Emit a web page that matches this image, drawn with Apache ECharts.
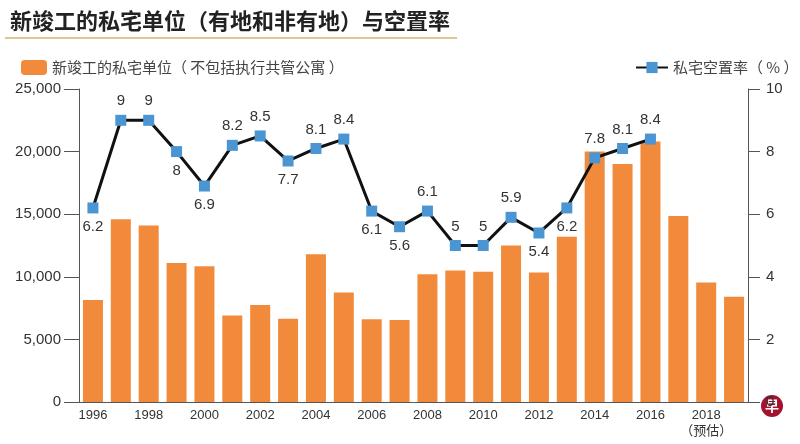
<!DOCTYPE html>
<html>
<head>
<meta charset="utf-8">
<script src="https://cdn.jsdelivr.net/npm/echarts@6/dist/echarts.min.js"></script>
<style>
html,body{margin:0;padding:0;background:#fff;}
#main{width:800px;height:444px;}
</style>
</head>
<body>
<div id="main"></div>
<script>
var years = ['1996','1997','1998','1999','2000','2001','2002','2003','2004','2005','2006','2007',
    '2008','2009','2010','2011','2012','2013','2014','2015','2016','2017','2018','2019'];
// 新竣工的私宅单位
var units = [8150, 14600, 14100, 11100, 10850, 6900, 7750, 6650, 11800, 8750, 6600, 6550,
    10200, 10500, 10400, 12500, 10350, 13200, 20000, 19000, 20800, 14850, 9550, 8400];
// 私宅空置率
var vacancy = [6.2, 9, 9, 8, 6.9, 8.2, 8.5, 7.7, 8.1, 8.4, 6.1, 5.6,
    6.1, 5, 5, 5.9, 5.4, 6.2, 7.8, 8.1, 8.4, null, null, null];
// 标签在点下方的年份
var labelBelow = ['1996','1999','2000','2003','2006','2007','2012','2013'];

var font = '"Liberation Sans", "Noto Sans CJK SC", sans-serif';
var cjk = '"Noto Sans CJK SC", sans-serif';
var myChart = echarts.init(document.getElementById('main'));

var lineData = vacancy.map(function (v, i) {
    return {
        value: v,
        label: { position: labelBelow.indexOf(years[i]) >= 0 ? 'bottom' : 'top' }
    };
});

var option = {
    backgroundColor: '#fff',
    textStyle: { fontFamily: font },
    title: {
        text: '新竣工的私宅单位（有地和非有地）与空置率',
        left: 5,
        top: 5,
        textStyle: { fontSize: 22, fontWeight: 'bold', color: '#222', fontFamily: cjk }
    },
    graphic: [{
        type: 'rect',
        shape: { x: 5, y: 37, width: 452, height: 2 },
        style: { fill: '#dcc88e' }
    }, {
        type: 'circle',
        shape: { cx: 772, cy: 406, r: 11 },
        style: { fill: '#a3122f' }
    }, {
        type: 'text',
        style: { x: 772, y: 406, text: '早', fill: '#fff', fontSize: 14, fontWeight: 'bold',
            align: 'center', verticalAlign: 'middle', fontFamily: cjk }
    }],
    legend: [{
        data: ['新竣工的私宅单位（不包括执行共管公寓）'],
        left: 16,
        top: 55,
        itemWidth: 26,
        itemHeight: 15,
        itemGap: 10,
        formatter: function () { return '新竣工的私宅单位（ 不包括执行共管公寓 ）'; },
        textStyle: { fontSize: 15, color: '#444', fontFamily: cjk }
    }, {
        data: ['私宅空置率（%）'],
        left: 630,
        top: 55,
        itemWidth: 32,
        itemHeight: 14,
        itemGap: 2,
        formatter: function () { return '私宅空置率（ % ）'; },
        textStyle: { fontSize: 15, color: '#444', fontFamily: cjk }
    }],
    grid: {
        left: 79,
        right: 52,
        top: 89,
        bottom: 42
    },
    xAxis: [{
        type: 'category',
        data: years,
        boundaryGap: true,
        axisLine: { lineStyle: { color: '#555', width: 1 } },
        axisTick: { show: false },
        axisLabel: {
            interval: 1,
            color: '#333',
            fontSize: 13,
            margin: 5,
            lineHeight: 16,
            formatter: function (v) {
                return v === '2018' ? '2018\n（预估）' : v;
            }
        }
    }],
    yAxis: [{
        type: 'value',
        min: 0,
        max: 25000,
        interval: 5000,
        axisLine: { show: true, lineStyle: { color: '#555' } },
        axisTick: { show: true, length: 15, lineStyle: { color: '#555' } },
        splitLine: { show: false },
        axisLabel: {
            color: '#333',
            fontSize: 15,
            margin: 18,
            formatter: function (v) { return v.toLocaleString('en-US'); }
        }
    }, {
        type: 'value',
        min: 0,
        max: 10,
        interval: 2,
        axisLine: { show: true, lineStyle: { color: '#555' } },
        axisTick: { show: true, length: 12, lineStyle: { color: '#555' } },
        splitLine: { show: false },
        axisLabel: { color: '#333', fontSize: 15, margin: 18 }
    }],
    series: [{
        name: '新竣工的私宅单位（不包括执行共管公寓）',
        type: 'bar',
        data: units,
        barWidth: 20,
        itemStyle: { color: '#f28a3b' },
        z: 1
    }, {
        name: '私宅空置率（%）',
        type: 'line',
        yAxisIndex: 1,
        data: lineData,
        symbol: 'rect',
        symbolSize: 11,
        connectNulls: false,
        lineStyle: { color: '#111', width: 3 },
        itemStyle: { color: '#4b95d3', borderWidth: 0 },
        label: {
            show: true,
            color: '#333',
            fontSize: 15,
            distance: 6
        },
        z: 3
    }]
};
myChart.setOption(option);
</script>
</body>
</html>
